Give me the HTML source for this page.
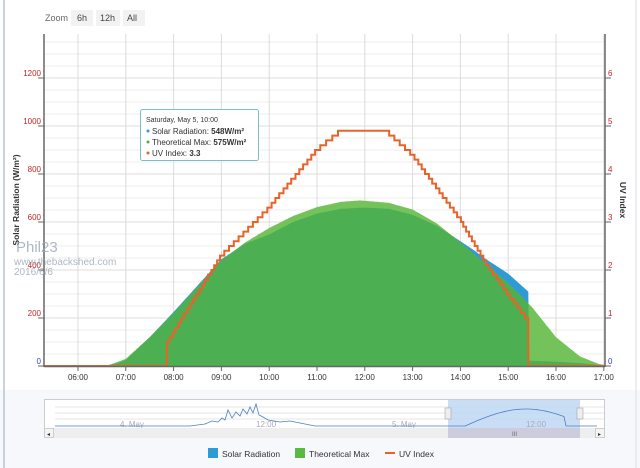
<!DOCTYPE html>
<html><head><meta charset="utf-8"><style>
html,body{margin:0;padding:0;background:#fff;}
svg{display:block;font-family:"Liberation Sans",sans-serif;}
</style></head><body>
<svg id="s" width="640" height="468" viewBox="0 0 640 468" xmlns="http://www.w3.org/2000/svg">
<rect x="0" y="0" width="640" height="468" fill="#fff"/>
<rect x="0" y="390" width="640" height="78" fill="#f6f8fc"/>
<line x1="4" y1="0" x2="4" y2="468" stroke="#b8c4d4" stroke-width="1.5"/>
<line x1="636" y1="0" x2="636" y2="468" stroke="#d8dee8" stroke-width="1"/>
<!-- zoom buttons -->
<text x="45" y="21" font-size="9" fill="#666">Zoom</text>
<rect x="71" y="10" width="22" height="16" fill="#f2f2f2"/><text x="77" y="21" font-size="9" fill="#444">6h</text>
<rect x="96" y="10" width="24" height="16" fill="#f2f2f2"/><text x="100" y="21" font-size="9" fill="#444">12h</text>
<rect x="123" y="10" width="22" height="16" fill="#f2f2f2"/><text x="127" y="21" font-size="9" fill="#444">All</text>
<g id="grid"></g>
<defs><clipPath id="plot"><rect x="44" y="30" width="561" height="336"/></clipPath><clipPath id="tclip"><path id="tcp"/></clipPath></defs>
<g clip-path="url(#plot)">
<path id="sBlue" fill="#2f9bd4"/>
<path id="tArea" fill="#74c35a"/>
<path id="sGreen" fill="#4caf52" clip-path="url(#tclip)"/>
<path id="uv" fill="none" stroke="#e8632a" stroke-width="2"/>
</g>
<!-- axes -->
<line x1="44" y1="34" x2="44" y2="367" stroke="#666" stroke-width="1.5"/>
<line x1="605" y1="34" x2="605" y2="367" stroke="#666" stroke-width="1.5"/>
<line x1="44" y1="366.5" x2="605" y2="366.5" stroke="#666" stroke-width="1.5"/>
<g id="labels" font-size="8"></g>
<text transform="translate(19,200) rotate(-90)" font-size="8.5" font-weight="bold" text-anchor="middle" fill="#333">Solar Radiation (W/m²)</text>
<text transform="translate(620,200) rotate(90)" font-size="8.5" font-weight="bold" text-anchor="middle" fill="#333">UV Index</text>
<!-- watermark -->
<g fill="#9aa6b6" opacity="0.8">
<text x="16" y="252" font-size="15">Phil23</text>
<text x="14" y="265" font-size="10">www.thebackshed.com</text>
<text x="14" y="275" font-size="10">2016/6/6</text>
</g>
<!-- tooltip -->
<rect x="140.5" y="109.5" width="118" height="51" rx="2" fill="#fff" fill-opacity="0.92" stroke="#7cbccb" stroke-width="1"/>
<text x="146" y="122" font-size="7" fill="#333">Saturday, May 5, 10:00</text>
<circle cx="148" cy="131" r="1.5" fill="#2f9bd4"/><text x="152" y="134" font-size="8" fill="#333">Solar Radiation: <tspan font-weight="bold">548W/m²</tspan></text>
<circle cx="148" cy="142" r="1.5" fill="#4caf52"/><text x="152" y="145" font-size="8" fill="#333">Theoretical Max: <tspan font-weight="bold">575W/m²</tspan></text>
<circle cx="148" cy="153" r="1.5" fill="#e8632a"/><text x="152" y="156" font-size="8" fill="#333">UV Index: <tspan font-weight="bold">3.3</tspan></text>
<!-- navigator -->
<rect x="44.5" y="399.5" width="560" height="29" fill="#fff" stroke="#ccc"/>
<g stroke="#e6e6e6"><line x1="55" y1="407" x2="604" y2="407"/><line x1="55" y1="413" x2="604" y2="413"/><line x1="55" y1="419" x2="604" y2="419"/></g>
<rect x="448" y="400" width="132" height="38" fill="#bcd6f2" fill-opacity="0.8"/>
<text x="120" y="427" font-size="8" fill="#aab">4. May</text>
<text x="256" y="427" font-size="8" fill="#aab">12:00</text>
<text x="392" y="427" font-size="8" fill="#aab">5. May</text>
<text x="526" y="427" font-size="8" fill="#aab">12:00</text>
<path id="nav" fill="none" stroke="#4a7fc0" stroke-width="0.8"/>
<rect x="445" y="408" width="6" height="11" fill="#eee" stroke="#999" stroke-width="0.5"/>
<rect x="577" y="408" width="6" height="11" fill="#eee" stroke="#999" stroke-width="0.5"/>
<rect x="44" y="428" width="561" height="10" fill="#eee"/>
<rect x="448" y="428" width="132" height="10" fill="#ccd"/>
<text x="512" y="436" font-size="6" fill="#666">III</text>
<rect x="44.5" y="428.5" width="9" height="9" fill="#f4f4f4" stroke="#ccc"/><text x="47" y="436" font-size="6" fill="#333">◂</text>
<rect x="595.5" y="428.5" width="9" height="9" fill="#f4f4f4" stroke="#ccc"/><text x="598" y="436" font-size="6" fill="#333">▸</text>
<!-- legend -->
<rect x="208" y="448" width="10" height="10" fill="#2f9bd4"/><text x="222" y="457" font-size="8.5" fill="#333">Solar Radiation</text>
<rect x="295" y="448" width="10" height="10" fill="#5ab940"/><text x="309" y="457" font-size="8.5" fill="#333">Theoretical Max</text>
<line x1="385" y1="453" x2="395" y2="453" stroke="#e8632a" stroke-width="2"/><text x="399" y="457" font-size="8.5" fill="#333">UV Index</text>
</svg>
<script>
var NS="http://www.w3.org/2000/svg";
function X(t){return 78+47.8*(t-6);}
function Y(v){return 366-v*0.24;}
function YU(u){return 366-u*48;}
function interp(pts,t){if(t<=pts[0][0])return pts[0][1];for(var i=1;i<pts.length;i++){if(t<=pts[i][0]){var a=pts[i-1],b=pts[i];return a[1]+(b[1]-a[1])*(t-a[0])/(b[0]-a[0]);}}return pts[pts.length-1][1];}
function mk(tag,attrs,parent,txt){var e=document.createElementNS(NS,tag);for(var k in attrs)e.setAttribute(k,attrs[k]);if(txt!=null)e.textContent=txt;parent.appendChild(e);return e;}
var g=document.getElementById('grid');
for(var v=0;v<=1400;v+=50){var y=Y(v);if(y<34)break;mk('line',{x1:44,x2:605,y1:y,y2:y,stroke:(v%200==0?'#ddd':'#ececec'),'stroke-width':1},g);}
for(var h=6;h<=17;h++){var x=X(h);mk('line',{x1:x,x2:x,y1:34,y2:366,stroke:'#dcdcdc'},g);}
var L=document.getElementById('labels');
for(var v=0;v<=1200;v+=200){var y=Y(v);mk('text',{x:41,y:y-2,'text-anchor':'end',fill:v==0?'#3344bb':'#cc2222'},L,String(v));mk('line',{x1:38,x2:44,y1:y,y2:y,stroke:'#666'},L);}
for(var u=0;u<=6;u++){var y=YU(u);mk('text',{x:608,y:y-2,fill:u==0?'#3344bb':'#cc2222'},L,String(u));mk('line',{x1:605,x2:611,y1:y,y2:y,stroke:'#666'},L);}
for(var h=6;h<=17;h++){mk('text',{x:X(h),y:380,'text-anchor':'middle',fill:'#333'},L,(h<10?'0':'')+h+':00');mk('line',{x1:X(h),x2:X(h),y1:366,y2:371,stroke:'#666'},L);}
var T=[[5.2,0],[6.6,0],[7,30],[7.5,120],[8,220],[8.5,330],[9,440],[9.5,515],[10,575],[10.5,625],[11,662],[11.5,684],[11.9,690],[12.5,680],[13,652],[13.5,595],[14,515],[14.5,430],[15,345],[15.5,245],[16,120],[16.5,40],[16.9,8],[17.2,0]];
var S=[[5.2,0],[6.5,0],[6.8,10],[7,25],[7.5,120],[8,225],[8.5,335],[9,445],[9.5,510],[10,548],[10.5,600],[11,635],[11.5,655],[12,660],[12.5,655],[13,630],[13.5,585],[14,520],[14.3,480],[14.5,450],[15,385],[15.42,310],[15.43,22],[16,18],[16.5,12],[17,3],[17.2,0]];
function area(pts){var d='M'+X(5.2)+','+Y(0);for(var t=5.2;t<=17.21;t+=0.02){d+='L'+X(t).toFixed(1)+','+Y(interp(pts,t)).toFixed(1);}d+='L'+X(17.2)+','+Y(0)+'Z';return d;}
var ta=area(T),sa=area(S);
document.getElementById('tArea').setAttribute('d',ta);
document.getElementById('tcp').setAttribute('d',ta);
document.getElementById('sBlue').setAttribute('d',sa);
document.getElementById('sGreen').setAttribute('d',sa);
var U=[[7.86,0.45],[8,0.7],[9,2.3],[10,3.3],[11,4.5],[11.5,4.9],[12.45,4.9],[13,4.4],[14,3.05],[14.5,2.2],[15,1.5],[15.42,0.95]];
var d='M'+X(5.2)+','+YU(0)+'L'+X(7.86)+','+YU(0);var prev=null;
for(var t=7.86;t<=15.42;t+=0.01){var u=Math.round(interp(U,t)*10)/10;var x=X(t).toFixed(1);if(u!==prev){d+='L'+x+','+YU(prev==null?0:prev).toFixed(1)+'L'+x+','+YU(u).toFixed(1);prev=u;}}
d+='L'+X(15.42)+','+YU(prev)+'L'+X(15.42)+','+YU(0)+'L'+X(17.2)+','+YU(0);
document.getElementById('uv').setAttribute('d',d);
// navigator
var nd='M55,426';var pts=[[190,426],[205,424],[212,421],[218,422],[222,418],[225,420],[228,410],[232,418],[236,412],[240,416],[243,409],[247,414],[250,407],[253,413],[256,404],[259,415],[263,417],[268,420],[280,422],[290,421],[300,423],[315,426],[465,426]];
pts.forEach(function(p){nd+='L'+p[0]+','+p[1];});
for(var x=465;x<=565;x+=3){var f=(x-465)/100;nd+='L'+x+','+(426-17*Math.sin(Math.PI*f*0.82)).toFixed(1);}
nd+='L566,426L597,426';
document.getElementById('nav').setAttribute('d',nd);
</script>
</body></html>
